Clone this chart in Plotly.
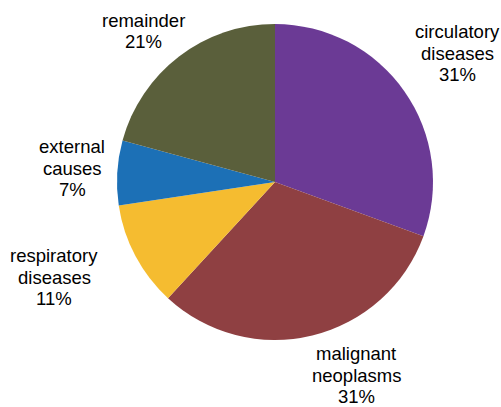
import plotly.graph_objects as go

labels = ["circulatory<br>diseases", "malignant<br>neoplasms", "respiratory<br>diseases",
          "external<br>causes", "remainder"]
values = [30.6, 31.3, 10.8, 6.6, 20.8]
colors = ["#6B3A95", "#8F4042", "#F5BC30", "#1C70B6", "#5A5F3B"]

# label block centres (pixels from top-left) – styling/layout only
label_pos = [(457, 53), (356, 375), (54, 277), (72, 168), (143, 31)]

W, H = 501, 407
cx, cy, r = 275, 182, 158
LINE = 21.5
FONT = dict(family="Liberation Sans, Arial, sans-serif", size=18.5, color="#000000")

fig = go.Figure(go.Pie(
    labels=labels,
    values=values,
    sort=False,
    direction="clockwise",
    rotation=0,
    marker=dict(colors=colors, line=dict(width=0)),
    textinfo="none",
    showlegend=False,
    automargin=False,
    hoverinfo="skip",
    domain=dict(x=[(cx - r) / W, (cx + r) / W], y=[(H - cy - r) / H, (H - cy + r) / H]),
))

total = sum(values)
annotations = []
for lab, v, (px, py) in zip(labels, values, label_pos):
    lines = lab.split("<br>") + [f"{round(100 * v / total):d}%"]
    n = len(lines)
    for i, t in enumerate(lines):
        yy = py + (i - (n - 1) / 2) * LINE
        annotations.append(dict(
            x=px / W, y=1 - yy / H, xref="paper", yref="paper",
            text=t, showarrow=False, xanchor="center", yanchor="middle",
            font=FONT, borderpad=0,
        ))

fig.update_layout(
    width=W, height=H,
    margin=dict(l=0, r=0, t=0, b=0),
    paper_bgcolor="white",
    plot_bgcolor="white",
    annotations=annotations,
)
fig.write_html("out.html", config={"displayModeBar": False},
               post_script="document.body.style.margin='0';")
